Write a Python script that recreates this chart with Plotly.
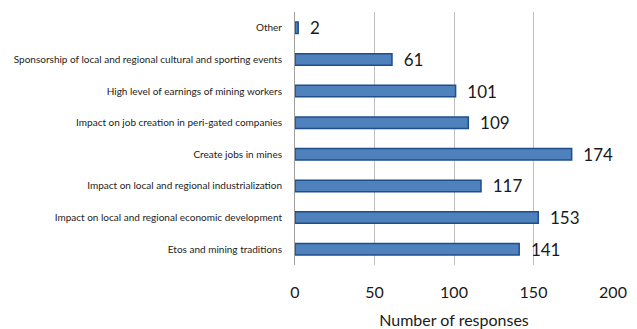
import plotly.graph_objects as go

categories = [
    "Etos and mining traditions",
    "Impact on local and regional economic development",
    "Impact on local and regional industrialization",
    "Create jobs in mines",
    "Impact on job creation in peri-gated companies",
    "High level of earnings of mining workers",
    "Sponsorship of local and regional cultural and sporting events",
    "Other",
]
responses = [141, 153, 117, 174, 109, 101, 61, 2]
x_ticks = [0, 50, 100, 150, 200]

font_family = "Lato, 'Open Sans', sans-serif"

fig = go.Figure(
    go.Bar(
        y=categories,
        x=responses,
        orientation="h",
        width=0.36,
        marker=dict(color="#4F81BD", line=dict(color="#1F4E8C", width=1.5)),
        text=responses,
        texttemplate="  %{x}",
        textposition="outside",
        constraintext="none",
        textfont=dict(size=17, color="#1a1a1a", family=font_family),
        cliponaxis=False,
    )
)

fig.update_layout(
    width=637,
    height=329,
    margin=dict(l=295, r=24, t=12, b=64, autoexpand=False),
    paper_bgcolor="white",
    plot_bgcolor="white",
    showlegend=False,
    font=dict(family=font_family, color="#222222"),
    bargap=0.64,
    uniformtext=dict(minsize=17, mode="show"),
)

fig.update_xaxes(
    range=[0, 200],
    tickvals=x_ticks,
    showgrid=True,
    gridcolor="#BEBEBE",
    gridwidth=1,
    zeroline=False,
    showline=False,
    automargin=False,
    tickfont=dict(size=16, color="#1a1a1a"),
    ticklabelstandoff=16,
    title=dict(text="Number of responses", font=dict(size=16, color="#1a1a1a"), standoff=14),
)

fig.update_yaxes(
    range=[-0.5, 7.5],
    showgrid=False,
    zeroline=False,
    showline=True,
    linecolor="#A0A0A0",
    linewidth=1,
    automargin=False,
    tickfont=dict(size=10, color="#222222"),
    ticklabelstandoff=10,
)

fig.write_html("out.html")
